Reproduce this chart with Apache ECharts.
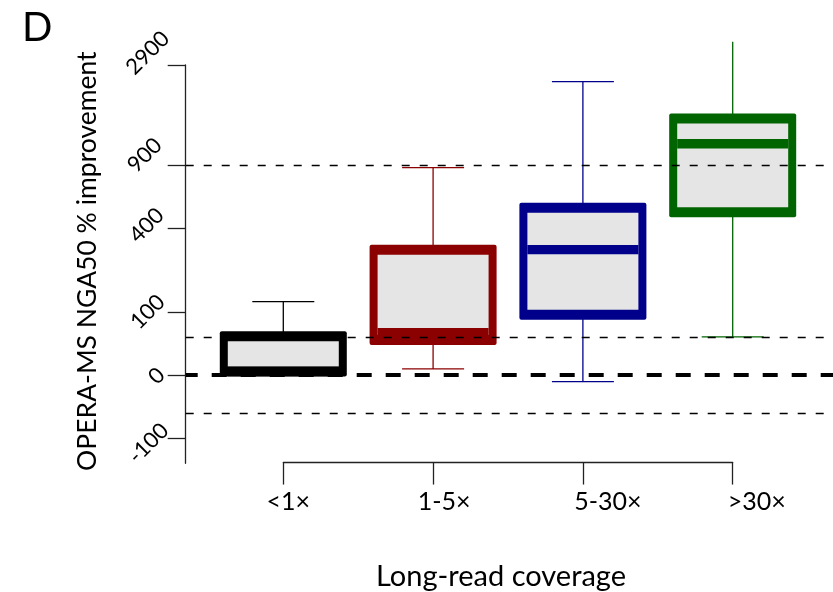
<!DOCTYPE html>
<html><head><meta charset="utf-8">
<script src="https://cdn.jsdelivr.net/npm/echarts@6/dist/echarts.min.js"></script>
<style>html,body{margin:0;padding:0;background:#fff}#c{width:833px;height:592px}</style>
</head><body><div id="c"></div>
<script>
// ---- data (values in % improvement) ----
const categories = ['<1×', '1-5×', '5-30×', '>30×'];
const lowWhisker  = [2, 7, -7, 52];
const q1Values    = [4, 47, 94, 497];
const medians     = [4, 59, 296, 1165];
const q3Values    = [53, 295, 526, 1569];
const highWhisker = [124, 873, 2398, 3773];
const boxColors   = ['#000000', '#8b0000', '#00008b', '#006400'];
// tick positions (as % improvement) and the labels printed there
const yTickValues = [-50, 0, 100, 400, 900, 2900];
const yTickLabels = ['-100', '0', '100', '400', '900', '2900'];
const refLines = [900, 50, -34];
const zeroLine = 0;
const yAxisBottom = -62, yAxisTop = 2900;

// axis transform: log of fold change
const f = v => Math.log10(1 + v / 100);
const FONT = 'Lato, "Noto Sans", sans-serif';

const boxData = categories.map((c, i) => [i + 1, f(lowWhisker[i]), f(q1Values[i]), f(medians[i]), f(q3Values[i]), f(highWhisker[i])]);

function renderBox(params, api) {
  const i = params.dataIndex;
  const x = api.value(0);
  const color = boxColors[i];
  const p = k => api.coord([x, api.value(k)]);
  const cx = p(1)[0];
  const yLo = p(1)[1], yQ1 = p(2)[1], yMed = p(3)[1], yQ3 = p(4)[1], yHi = p(5)[1];
  const yTop = api.coord([x, f(yAxisTop)])[1];
  const halfW = 63.5, capHalf = 31, inX = 8, inY = 10, band = 9.4, ext = 5;
  const ls = { stroke: color, lineWidth: 1.3, fill: null };
  const ch = [];
  ch.push({ type: 'line', shape: { x1: cx, y1: yQ3, x2: cx, y2: yHi }, style: ls });
  if (yHi >= yTop - 0.5) ch.push({ type: 'line', shape: { x1: cx - capHalf, y1: yHi, x2: cx + capHalf, y2: yHi }, style: ls });
  ch.push({ type: 'line', shape: { x1: cx, y1: yQ1, x2: cx, y2: yLo }, style: ls });
  ch.push({ type: 'line', shape: { x1: cx - capHalf, y1: yLo, x2: cx + capHalf, y2: yLo }, style: ls });
  const top = yQ3 - ext, h = yQ1 - yQ3 + 2 * ext;
  ch.push({ type: 'rect', shape: { x: cx - halfW, y: top, width: 2 * halfW, height: h, r: 2 }, style: { fill: color } });
  ch.push({ type: 'rect', shape: { x: cx - halfW + inX, y: top + inY, width: 2 * (halfW - inX), height: Math.max(0, h - 2 * inY) }, style: { fill: '#e5e5e5' } });
  ch.push({ type: 'rect', shape: { x: cx - halfW + inX, y: yMed - band / 2, width: 2 * (halfW - inX), height: band }, style: { fill: color } });
  return { type: 'group', children: ch };
}

// small label nudges (screen px) to mimic the reference's label placement
const yNudge = [[1, 5], [9, 1], [0, 0], [-1, -3], [-3, -10], [0, -12]];
const yRich = {};
yNudge.forEach(([dx, dy], k) => {
  const a = (dx - dy) / Math.SQRT2, b = (-dy - dx) / Math.SQRT2;
  yRich['s' + k] = { fontFamily: FONT, fontSize: 22, color: '#000',
    padding: [b < 0 ? -2 * b : 0, a < 0 ? -2 * a : 0, b > 0 ? 2 * b : 0, a > 0 ? 2 * a : 0] };
});
const xShift = [10, 22, 50, 48];
const xRich = {};
xShift.forEach((s, k) => { xRich['c' + k] = { fontFamily: FONT, fontSize: 25, color: '#000', padding: [0, 0, 0, s] }; });

const chart = echarts.init(document.getElementById('c'), null, { renderer: 'canvas' });
chart.setOption({
  animation: false,
  backgroundColor: '#fff',
  title: { text: 'D', left: 17, top: 3, textStyle: { fontFamily: FONT, fontSize: 40, fontWeight: 'normal', color: '#000' } },
  grid: [
    { left: 185.7, right: 0, top: 65, height: 398.3 },
    { left: 283.3, right: 100.3, top: 462.3, height: 1 }
  ],
  xAxis: [
    { gridIndex: 0, type: 'value', min: 0.3485, max: 4.6696, show: false },
    { gridIndex: 1, type: 'category', data: categories, boundaryGap: false,
      axisLine: { lineStyle: { color: '#222', width: 1.3 } },
      axisTick: { length: 22, lineStyle: { color: '#222', width: 1.3 } },
      axisLabel: { fontFamily: FONT, fontSize: 25, color: '#000', margin: 27, rich: xRich,
        formatter: (v, idx) => '{c' + categories.indexOf(v) + '|' + v + '}' },
      name: 'Long-read coverage', nameLocation: 'middle', nameGap: 100,
      nameTextStyle: { fontFamily: FONT, fontSize: 29, color: '#000', padding: [0, 14, 0, 0] } }
  ],
  yAxis: [
    { gridIndex: 0, type: 'value', min: f(yAxisBottom), max: f(yAxisTop),
      axisLine: { show: true, lineStyle: { color: '#222', width: 1.3 } },
      axisTick: { show: true, customValues: yTickValues.map(f), length: 18, lineStyle: { color: '#222', width: 1.3 } },
      axisLabel: { customValues: yTickValues.map(f), rotate: 45, margin: 38, align: 'center', verticalAlign: 'middle',
        fontFamily: FONT, fontSize: 22, color: '#000', rich: yRich,
        formatter: v => { const k = yTickValues.findIndex(t => Math.abs(f(t) - v) < 1e-6); return k >= 0 ? '{s' + k + '|' + yTickLabels[k] + '}' : ''; } },
      splitLine: { show: false },
      name: 'OPERA-MS NGA50 % improvement', nameLocation: 'middle', nameGap: 85, nameRotate: 90,
      nameTextStyle: { fontFamily: FONT, fontSize: 26.5, color: '#000', padding: [0, 0, 0, 6] } },
    { gridIndex: 1, type: 'value', show: false }
  ],
  series: [
    { type: 'custom', xAxisIndex: 0, yAxisIndex: 0, renderItem: renderBox, data: boxData, z: 2,
      encode: { x: 0, y: [1, 2, 3, 4, 5] } },
    { type: 'line', xAxisIndex: 0, yAxisIndex: 0, data: [], z: 5,
      markLine: { silent: true, symbol: 'none', label: { show: false },
        data: refLines.map(v => ({ yAxis: f(v), lineStyle: { type: [8, 10], color: '#000', width: 1.3 } }))
          .concat([{ yAxis: f(zeroLine), lineStyle: { type: [15, 14], dashOffset: 3, color: '#000', width: 4 } }]) } }
  ]
});
</script></body></html>
